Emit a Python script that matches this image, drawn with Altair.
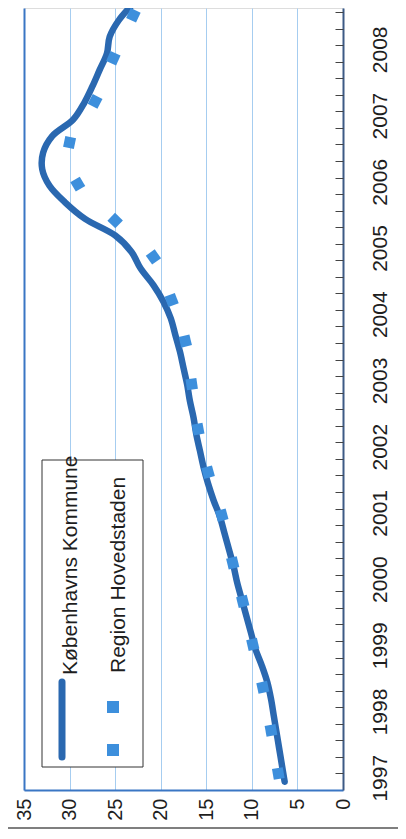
import math
import altair as alt
import pandas as pd

# ---------------- data ----------------
series_names = ["Københavns Kommune", "Region Hovedstaden"]
years = list(range(1997, 2009))
quarters = [1, 2, 3, 4]

# Københavns Kommune, one value per quarter 1997Q1 .. 2008Q4
kommune = [6.4, 6.7, 7.0, 7.3, 7.6, 7.9,
           8.3, 8.9, 9.6, 10.1, 10.6, 11.1,
           11.6, 12.0, 12.5, 13.0, 13.5, 14.2,
           14.8, 15.3, 15.7, 16.1, 16.4, 16.8,
           17.1, 17.5, 17.9, 18.4, 18.9, 19.7,
           20.8, 22.2, 23.2, 25.0, 28.3, 30.5,
           32.2, 33.0, 32.9, 31.9, 29.6, 28.4,
           27.5, 26.7, 25.9, 25.6, 24.6, 23.0]

# Region Hovedstaden, square markers (time in decimal years, value)
region_time = [1997.25, 1997.90, 1998.55, 1999.20, 1999.85, 2000.43, 2001.15,
               2001.80, 2002.45, 2003.13, 2003.78, 2004.40, 2005.05, 2005.60,
               2006.15, 2006.78, 2007.40, 2008.05, 2008.70]
region = [7.1, 7.9, 8.8, 9.9, 11.0, 12.1, 13.3,
          14.8, 15.9, 16.6, 17.3, 18.8, 20.8, 25.0,
          29.1, 30.0, 27.2, 25.2, 23.0]

value_ticks = [0, 5, 10, 15, 20, 25, 30, 35]

# ---------------- layout / style ----------------
W, H = 319, 782
T0, T1 = 1997.0, 2008.81
PX_PER_UNIT = W / 35.0
PX_PER_YEAR = H / (T1 - T0)
FONT = "Liberation Sans, Arial, sans-serif"
C_KOM = "#2a68b0"
C_REG = "#3d8fdc"
C_FRAME = "#3a76c4"
C_GRID = "#a6cdf0"
C_TEXT = "#1e1e1e"

kommune_time = [y + (q - 0.5) / 4 for y in years for q in quarters]
kdf = pd.DataFrame({"time": kommune_time, "value": kommune})

# tilt of each square follows the local direction of the series on screen
angles = []
n = len(region)
for i in range(n):
    a, b = max(i - 1, 0), min(i + 1, n - 1)
    dx = -(region[b] - region[a]) * PX_PER_UNIT
    dy = -(region_time[b] - region_time[a]) * PX_PER_YEAR
    angles.append(math.degrees(math.atan2(dy, dx)) % 90)
rdf = pd.DataFrame({"time": region_time, "value": region, "angle": angles})

leg = pd.DataFrame({"series": series_names})

xscale = alt.Scale(domain=[0, 35], reverse=True, nice=False, zero=False)
yscale = alt.Scale(domain=[T0, T1], nice=False, zero=False)

edge = "datum.value === 35"
x_axis = alt.Axis(
    values=value_ticks, title=None, labelAngle=270, labelAlign="right",
    labelBaseline="middle", labelPadding=8, labelFont=FONT, labelFontSize=20,
    labelColor=C_TEXT, ticks=False, domainColor=C_FRAME, domainWidth=2,
    grid=True,
    gridColor={"condition": {"test": edge, "value": C_FRAME}, "value": C_GRID},
    gridWidth={"condition": {"test": edge, "value": 2}, "value": 1},
    labelOverlap=False,
)

year_axis = alt.Axis(
    orient="right", values=[y + 0.125 for y in years],
    labelExpr="floor(datum.value)", ticks=False, domainColor="#3d5a85",
    domainWidth=2, labelAngle=270, labelAlign="center", labelBaseline="middle",
    labelPadding=37, labelOffset=-4, labelFont=FONT, labelFontSize=21,
    labelColor=C_TEXT, grid=False, title=None, labelOverlap=False,
)

tick_axis = alt.Axis(
    orient="left", offset=-W, values=[T0 + 0.25 * k for k in range(1, 48)],
    labels=False, domain=False, ticks=True, tickSize=8, tickColor="#444444",
    tickWidth=1, grid=False, title=None,
)

line = alt.Chart(kdf).mark_line(
    color=C_KOM, strokeWidth=6.5, strokeCap="round", strokeJoin="round",
    interpolate="catmull-rom", clip=True,
).encode(
    x=alt.X("value:Q", scale=xscale, axis=x_axis),
    y=alt.Y("time:Q", scale=yscale, axis=year_axis),
    order="time:Q",
)

squares = alt.Chart(rdf).mark_square(
    size=120, color=C_REG, opacity=1, clip=True,
).encode(
    x=alt.X("value:Q", scale=xscale, axis=x_axis),
    y=alt.Y("time:Q", scale=yscale, axis=tick_axis),
    angle=alt.Angle("angle:Q", scale=None),
)

# ---------------- legend (rotated, drawn by hand) ----------------
box = alt.Chart(leg.head(1)).mark_rect(fill="white", stroke="#333333", strokeWidth=1).encode(
    x=alt.value(18), x2=alt.value(119), y=alt.value(452), y2=alt.value(759))
kom_sym = alt.Chart(leg.head(1)).mark_rule(color=C_KOM, strokeWidth=7, strokeCap="round").encode(
    x=alt.value(38), y=alt.value(674), y2=alt.value(749))
kom_txt = alt.Chart(leg.iloc[[0]]).mark_text(
    angle=270, align="left", baseline="alphabetic", font=FONT, fontSize=21, color=C_TEXT
).encode(x=alt.value(53), y=alt.value(667), text="series:N")
reg_sym1 = alt.Chart(leg.iloc[[1]]).mark_square(size=144, color=C_REG, opacity=1).encode(
    x=alt.value(89), y=alt.value(699))
reg_sym2 = alt.Chart(leg.iloc[[1]]).mark_square(size=144, color=C_REG, opacity=1).encode(
    x=alt.value(89), y=alt.value(742))
reg_txt = alt.Chart(leg.iloc[[1]]).mark_text(
    angle=270, align="left", baseline="alphabetic", font=FONT, fontSize=21, color=C_TEXT
).encode(x=alt.value(101), y=alt.value(665), text="series:N")

frame = alt.Chart(leg.head(1)).mark_rule(color="#555555", strokeWidth=1.5).encode(
    x=alt.value(-16), x2=alt.value(W + 55), y=alt.value(H + 38))

chart = alt.layer(
    line, squares, box, kom_sym, kom_txt, reg_sym1, reg_sym2, reg_txt, frame
).resolve_scale(y="independent").properties(
    width=W, height=H,
    padding={"left": 16, "top": 0, "right": 55, "bottom": 40},
    autosize=alt.AutoSizeParams(type="none"),
).configure_view(stroke=None).configure(background="white")

chart.save("out.html", embed_options={"renderer": "svg", "actions": False})
